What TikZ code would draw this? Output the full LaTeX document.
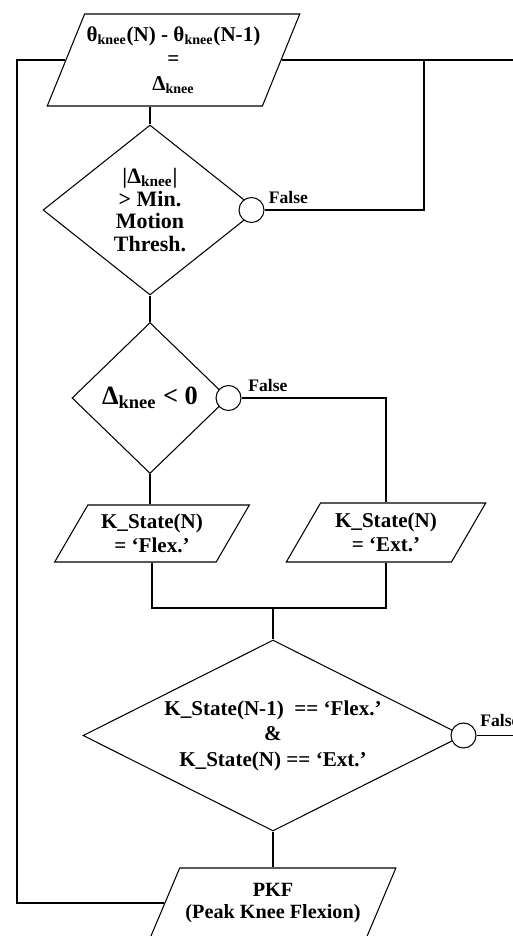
\documentclass[tikz,border=0pt]{standalone}
\usepackage{fontspec}
\setmainfont{Liberation Serif}
\usetikzlibrary{positioning, shapes.geometric}

\begin{document}
\begin{tikzpicture}[x=0.02cm, y=-0.02cm,
            iobox/.style={trapezium, draw, line width=0.6pt, trapezium stretches=true, inner sep=0pt, align=center, font=\bfseries\fontsize{12}{14}\selectfont},
            decision/.style={diamond, draw, line width=0.6pt, inner sep=0pt, align=center, font=\bfseries\fontsize{12}{14}\selectfont},
            joint/.style={circle, draw, line width=0.6pt, fill=white, minimum size=0.5cm, inner sep=0pt},
            flab/.style={font=\bfseries\fontsize{10}{12}\selectfont, inner sep=1pt},
            line/.style={line width=0.6pt}
        ]
            \useasboundingbox (0,0) rectangle (513,936);

            \node[iobox, minimum width=5.06cm, minimum height=1.84cm, trapezium left angle=61.5, trapezium right angle=118.5] (delta) at (173.5,60) {θ\textsubscript{knee}(N) - θ\textsubscript{knee}(N-1)\\=\\Δ\textsubscript{knee}};
            \node[decision, aspect=1.26, minimum width=4.28cm, minimum height=3.4cm, font=\bfseries\fontsize{12.5}{13}\selectfont] (thresh) at (150,210) {|Δ\textsubscript{knee}|\\> Min.\\Motion\\Thresh.};
            \node[decision, aspect=1.03, minimum width=3.12cm, minimum height=3.02cm, font=\bfseries\fontsize{15}{17}\selectfont] (sign) at (150,398) {Δ\textsubscript{knee} < 0};
            \node[iobox, minimum width=3.92cm, minimum height=1.14cm, trapezium left angle=56.3, trapezium right angle=123.7] (flex) at (152,533.5) {K\_State(N)\\= ‘Flex.’};
            \node[iobox, minimum width=4.0cm, minimum height=1.18cm, trapezium left angle=56, trapezium right angle=124] (ext) at (386,532.5) {K\_State(N)\\= ‘Ext.’};
            \node[decision, aspect=1.99, minimum width=7.6cm, minimum height=3.82cm, font=\bfseries\fontsize{12}{14.5}\selectfont] (peak) at (273,735.5) {K\_State(N-1)\ \ == ‘Flex.’\\\&\\K\_State(N) == ‘Ext.’};
            \node[iobox, minimum width=4.92cm, minimum height=1.4cm, trapezium left angle=55.5, trapezium right angle=124.5, font=\bfseries\fontsize{11.5}{13}\selectfont] (pkf) at (273,903) {PKF\\(Peak Knee Flexion)};

            \node[joint] (c1) at ([xshift=-0.12cm]thresh.east) {};
            \node[joint] (c2) at (sign.east) {};
            \node[joint] (c3) at (peak.east) {};
            \node[flab, above right=0.085cm and 0.045cm of c1.east] (f1) {False};
            \node[flab, above right=0.085cm and 0.095cm of c2.east] (f2) {False};
            \node[flab, above right=0.125cm and 0.035cm of c3.east] (f3) {False};

            \coordinate (lp) at (17,0);
            \coordinate (rp) at (424,0);
            \coordinate (edge) at (513,0);
            \coordinate (mrg) at (273,608);

            \draw[line] (delta.south -| thresh.north) -- (thresh.north);
            \draw[line] (thresh.south) -- (sign.north);
            \draw[line] (sign.south) -- (sign.south |- flex.north);
            \draw[line] (delta.right side) -- (delta.right side -| edge);
            \draw[line] (c1.east) -| (rp |- delta.right side);
            \draw[line] (c2.east) -| (ext.center |- ext.north);
            \draw[line] (flex.center |- flex.south) |- (mrg) -| (ext.center |- ext.south);
            \draw[line] (mrg) -- (peak.north);
            \draw[line] (c3.east) -- (c3.east -| edge);
            \draw[line] (peak.south) -- (pkf.center |- pkf.north);
            \draw[line] (pkf.left side) -| (lp |- delta.left side) -- (delta.left side);

        \end{tikzpicture}
\end{document}
